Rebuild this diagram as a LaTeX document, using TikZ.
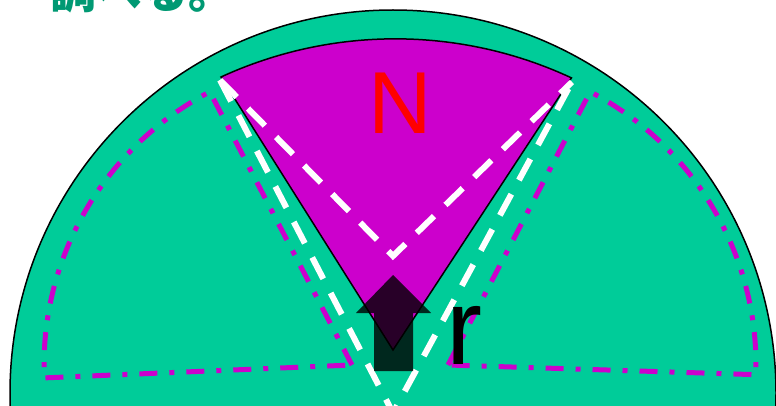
\documentclass[tikz,border=0pt]{standalone}
\usepackage{fontspec}
\setmainfont{Liberation Sans}
\newfontfamily\cjk{Noto Sans CJK JP}
\definecolor{fangreen}{RGB}{0,204,153}
\definecolor{sectormag}{RGB}{204,0,204}
\definecolor{titlegreen}{RGB}{0,153,115}

\begin{document}
\begin{tikzpicture}[
    x=1pt, y=1pt,
    disk/.style={draw=black, line width=1.5pt, fill=fangreen},
    sector/.style={draw=black, line width=1.5pt, fill=sectormag},
    whitedash/.style={draw=white, line width=6pt, dash pattern=on 24pt off 16pt},
    dashdot/.style={draw=sectormag, line width=5pt, dash pattern=on 18pt off 12pt on 5pt off 12pt},
    arrowfill/.style={fill=black, opacity=0.8}
]
\useasboundingbox (0,0) rectangle (776,405);
\clip (0,0) rectangle (776,405);

% Disk
\path[disk] (393,12) circle[radius=383pt];

% Sector
\coordinate (O) at (393,55);
\coordinate (A) at (221,328);
\path[sector] (O) -- (A) arc[start angle=114.7, end angle=65, radius=417pt] -- cycle;

% Rotated sectors
\coordinate (L) at (352,40);
\coordinate (R) at (448,40);
\draw[dashdot] (L) -- ++(117.5:308pt) arc[start angle=117.5, end angle=182.4, radius=308pt] -- cycle;
\draw[dashdot] (R) -- ++(62.5:308pt) arc[start angle=62.5, end angle=-1.8, radius=308pt] -- cycle;

% White dashed lines
\coordinate (Ltop) at (220,325);
\coordinate (Rtop) at (572,323);
\draw[whitedash] (Ltop) -- (393,149) -- (Rtop);
\draw[whitedash] (Ltop) -- (393,-8) -- (Rtop);

% Arrow
\fill[arrowfill] (374,34) -- (374,92) -- (356,92) -- (393,130) -- (431,92) -- (413,92) -- (413,34) -- cycle;

% Labels
\node[font=\fontsize{88}{88}\selectfont, text=red, anchor=base, inner sep=0] (N) at (400,272) {N};
\node[font=\fontsize{108}{108}\selectfont, anchor=base west, inner sep=0] (r) at (446,41) {r};
\node[font=\cjk\bfseries\fontsize{46}{46}\selectfont, text=titlegreen, anchor=base west, inner sep=0] (title) at (50,396) {調べる。};

\end{tikzpicture}
\end{document}
